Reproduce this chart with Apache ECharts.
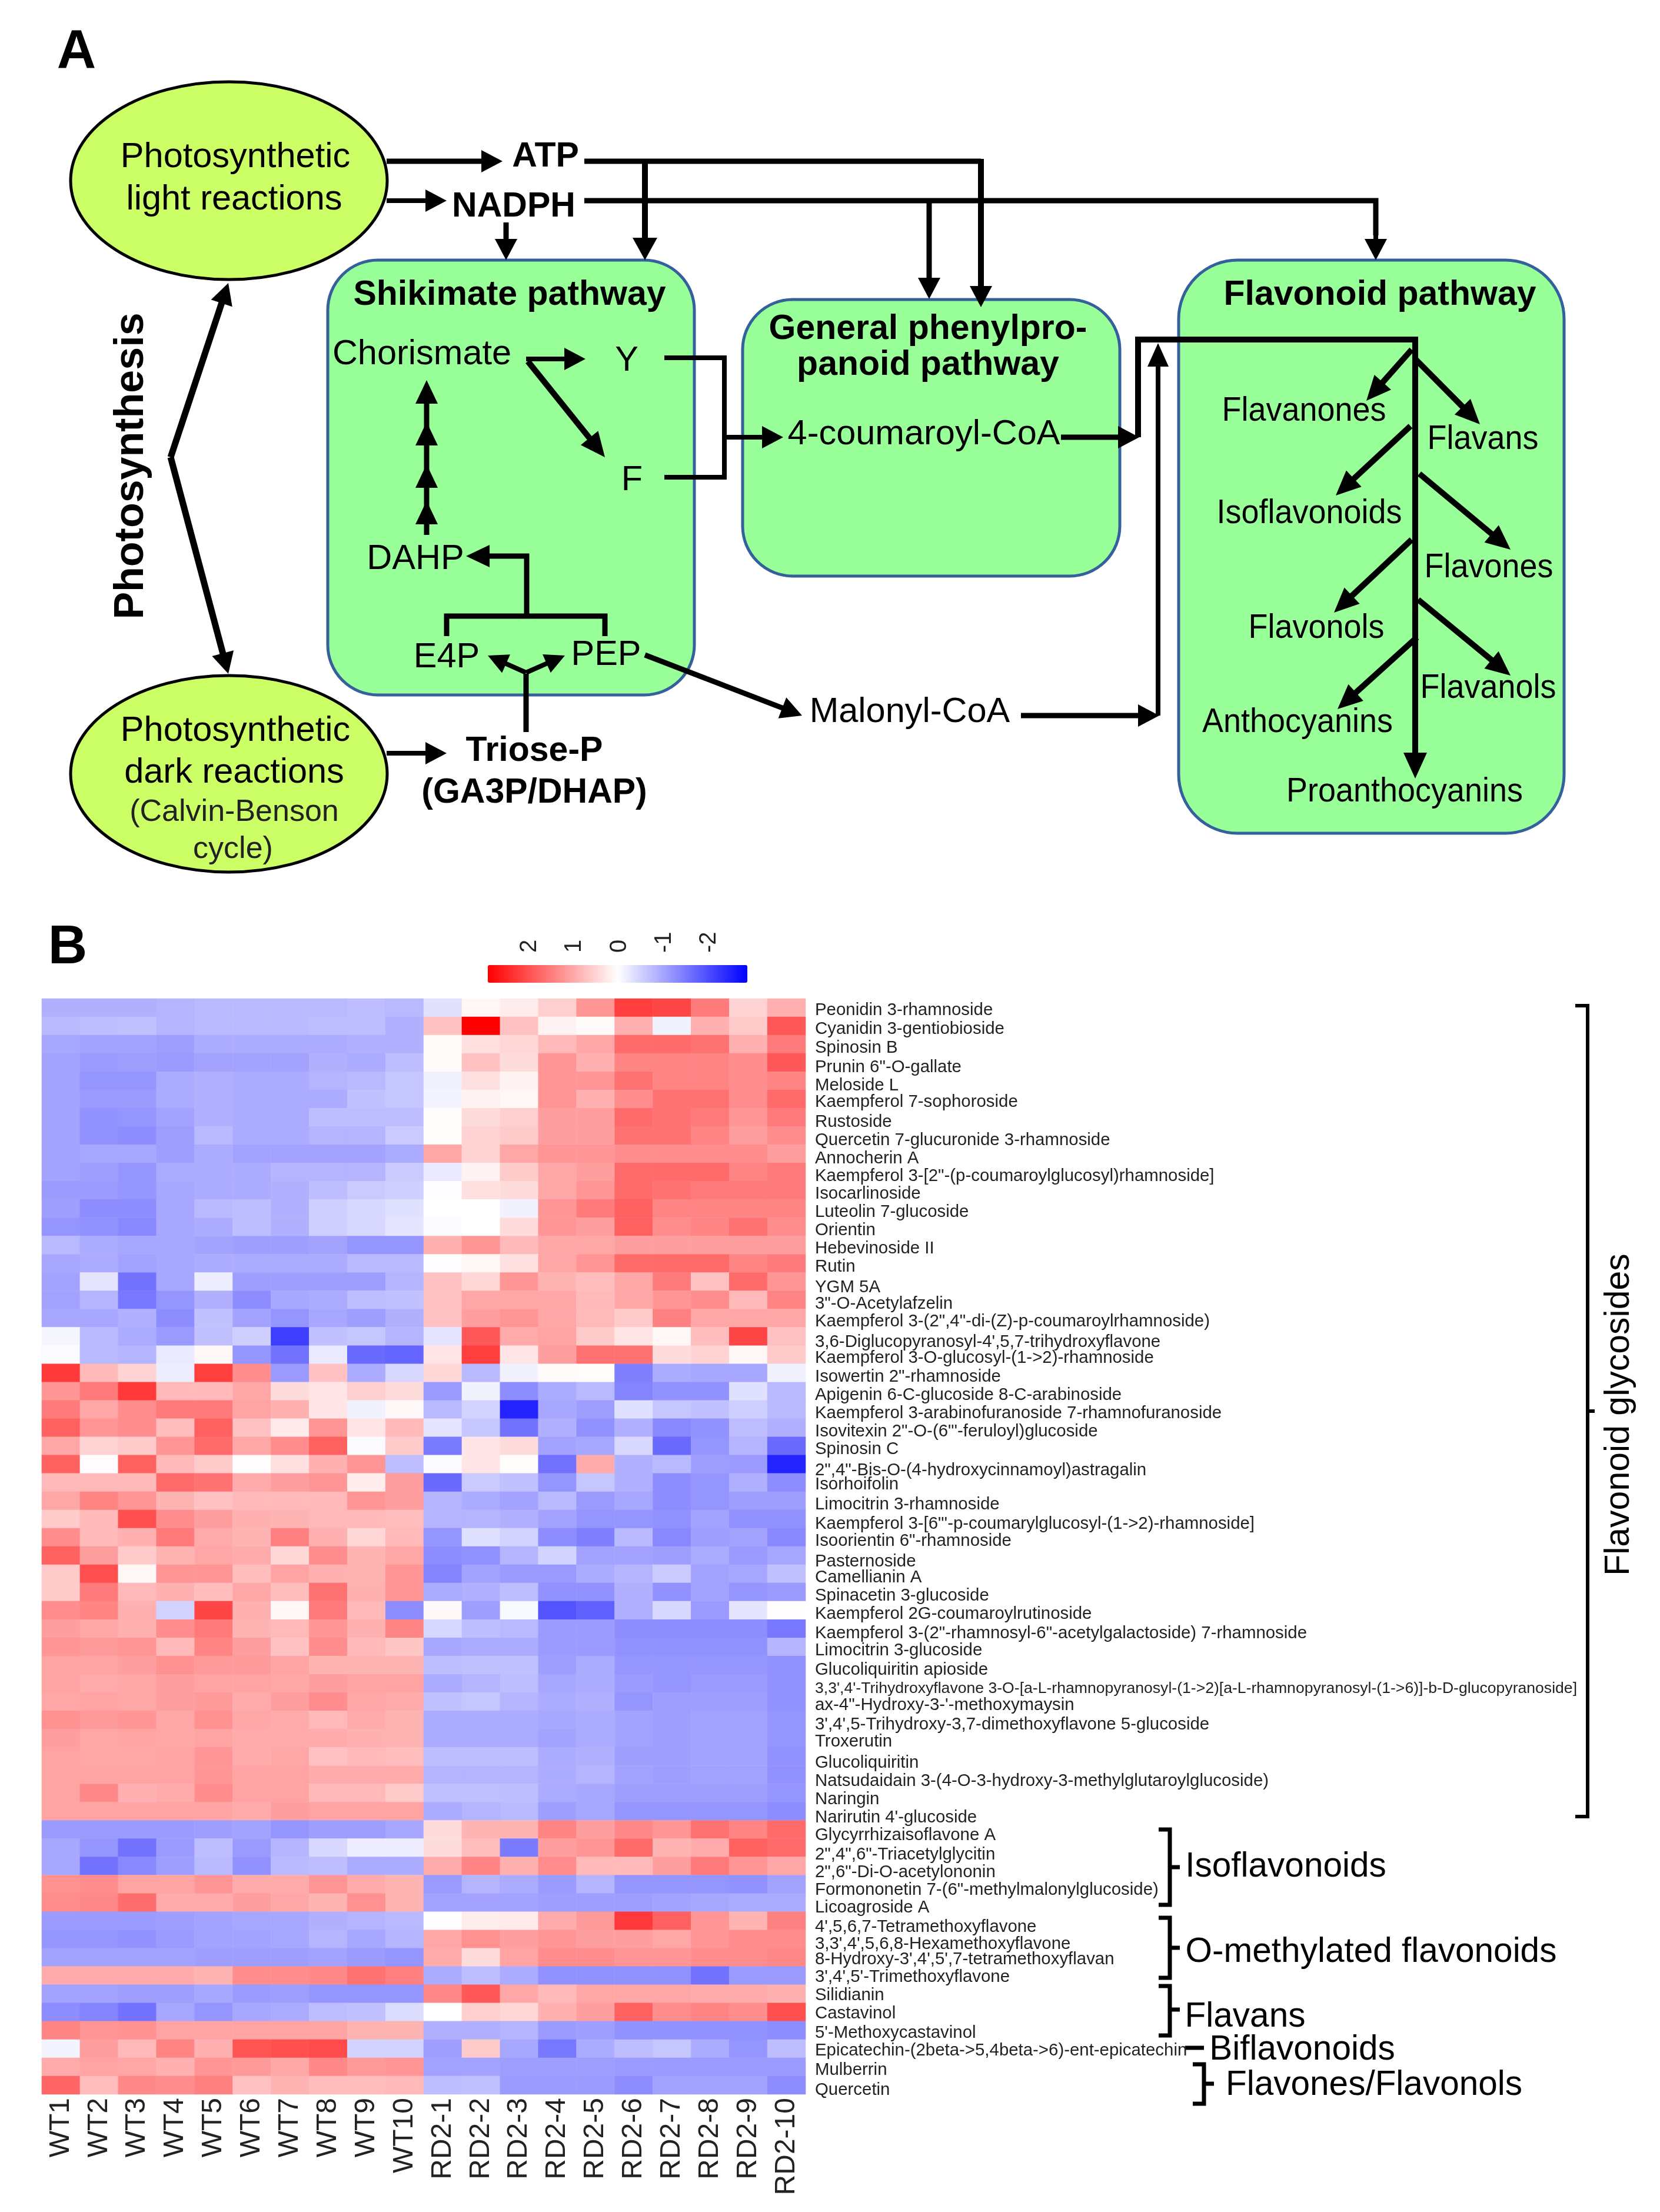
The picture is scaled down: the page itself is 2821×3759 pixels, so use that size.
<!DOCTYPE html>
<html><head><meta charset="utf-8">
<style>html,body{margin:0;padding:0;background:#fff}#c{width:2821px;height:3759px}</style>
<script src="https://cdn.jsdelivr.net/npm/echarts@6/dist/echarts.min.js"></script>
</head><body><div id="c"></div>
<script>
const samples = ['WT1','WT2','WT3','WT4','WT5','WT6','WT7','WT8','WT9','WT10','RD2-1','RD2-2','RD2-3','RD2-4','RD2-5','RD2-6','RD2-7','RD2-8','RD2-9','RD2-10'];
const compounds = ['Peonidin 3-rhamnoside','Cyanidin 3-gentiobioside','Spinosin B','Prunin 6"-O-gallate','Meloside L','Kaempferol 7-sophoroside','Rustoside','Quercetin 7-glucuronide 3-rhamnoside','Annocherin A','Kaempferol 3-[2"-(p-coumaroylglucosyl)rhamnoside]','Isocarlinoside','Luteolin 7-glucoside','Orientin','Hebevinoside II','Rutin','YGM 5A','3"-O-Acetylafzelin','Kaempferol 3-(2",4"-di-(Z)-p-coumaroylrhamnoside)','3,6-Diglucopyranosyl-4\',5,7-trihydroxyflavone','Kaempferol 3-O-glucosyl-(1->2)-rhamnoside','Isowertin 2"-rhamnoside','Apigenin 6-C-glucoside 8-C-arabinoside','Kaempferol 3-arabinofuranoside 7-rhamnofuranoside','Isovitexin 2"-O-(6"\'-feruloyl)glucoside','Spinosin C','2",4"-Bis-O-(4-hydroxycinnamoyl)astragalin','Isorhoifolin','Limocitrin 3-rhamnoside','Kaempferol 3-[6"\'-p-coumarylglucosyl-(1->2)-rhamnoside]','Isoorientin 6"-rhamnoside','Pasternoside','Camellianin A','Spinacetin 3-glucoside','Kaempferol 2G-coumaroylrutinoside','Kaempferol 3-(2"-rhamnosyl-6"-acetylgalactoside) 7-rhamnoside','Limocitrin 3-glucoside','Glucoliquiritin apioside','3,3\',4\'-Trihydroxyflavone 3-O-[a-L-rhamnopyranosyl-(1->2)[a-L-rhamnopyranosyl-(1->6)]-b-D-glucopyranoside]','ax-4"-Hydroxy-3-\'-methoxymaysin','3\',4\',5-Trihydroxy-3,7-dimethoxyflavone 5-glucoside','Troxerutin','Glucoliquiritin','Natsudaidain 3-(4-O-3-hydroxy-3-methylglutaroylglucoside)','Naringin','Narirutin 4\'-glucoside','Glycyrrhizaisoflavone A','2",4",6"-Triacetylglycitin','2",6"-Di-O-acetylononin','Formononetin 7-(6"-methylmalonylglucoside)','Licoagroside A','4\',5,6,7-Tetramethoxyflavone','3,3\',4\',5,6,8-Hexamethoxyflavone','8-Hydroxy-3\',4\',5\',7-tetramethoxyflavan','3\',4\',5\'-Trimethoxyflavone','Silidianin','Castavinol','5\'-Methoxycastavinol','Epicatechin-(2beta->5,4beta->6)-ent-epicatechin','Mulberrin','Quercetin'];
const values = [
[-.9,-.9,-.9,-.85,-.8,-.8,-.8,-.8,-.75,-.8,-.35,.1,.2,.55,1.2,2.2,2.1,1.5,.5,.9],
[-.8,-.75,-.7,-.85,-.8,-.8,-.8,-.75,-.75,-.9,.7,2.9,.7,.15,.05,.9,-.15,.9,.6,1.9],
[-1,-1.05,-1.05,-1.1,-.95,-.95,-.95,-.95,-.9,-.9,.05,.35,.45,.8,1,1.7,1.7,1.6,.9,1.5],
[-1.05,-1.15,-1.1,-1.15,-1.05,-1.05,-1.05,-.9,-.95,-.75,.05,.7,.4,1.2,.9,1.4,1.4,1.4,1.3,1.9],
[-1.05,-1.2,-1.2,-.95,-.9,-.95,-.95,-.85,-.8,-.65,-.15,.35,.15,1.2,1.2,1.6,1.4,1.4,1.3,1.4],
[-1.05,-1.15,-1.15,-.95,-.9,-.95,-.95,-.95,-.7,-.65,-.12,.15,.1,1.2,.9,1.3,1.6,1.6,1.3,1.7],
[-1.05,-1.25,-1.2,-1.05,-.9,-.95,-.95,-.75,-.75,-.75,.03,.4,.55,1.1,1.1,1.7,1.6,1.5,1.2,1.5],
[-1.05,-1.25,-1.3,-1.1,-.8,-.95,-.95,-.85,-.85,-.6,.03,.5,.6,1.1,1.1,1.6,1.6,1.4,1.1,1.3],
[-1.05,-1,-1,-1.1,-.95,-1.05,-1.05,-1.05,-1.05,-.95,1,.5,1,1.2,1.2,1.3,1.3,1.3,1.3,1.1],
[-1.05,-1.1,-1.2,-.95,-.95,-.95,-.85,-.85,-.85,-.6,-.25,.15,.6,1,1.1,1.7,1.7,1.7,1.4,1.5],
[-1.15,-1.15,-1.2,-1,-.95,-.95,-.9,-.75,-.6,-.55,-.02,.35,.4,1,1.2,1.7,1.6,1.5,1.5,1.5],
[-1.1,-1.3,-1.3,-1,-.8,-.75,-.9,-.55,-.45,-.35,0,0,-.15,1.2,1.5,1.8,1.4,1.4,1.4,1.4],
[-1.2,-1.25,-1.35,-1,-.95,-.75,-.9,-.55,-.45,-.3,-.05,0,.4,1.2,1.1,1.8,1.3,1.4,1.6,1.3],
[-.8,-.95,-1,-1,-1.05,-1.1,-1.1,-1.05,-1.2,-1.2,.9,1.2,.8,1,1,1.1,1.1,1.1,1.1,1.1],
[-1,-.95,-1.05,-1,-.95,-.95,-.95,-.95,-.8,-.8,-.02,.1,.35,1,1.2,1.7,1.7,1.7,1.4,1.5],
[-1.05,-.3,-1.6,-1,-.2,-1.1,-1.1,-1.1,-1.1,-.85,.7,.45,1.2,.85,.75,1,1.5,.7,1.7,1.2],
[-1.05,-.85,-1.55,-1.2,-.9,-1.3,-1,-.95,-.75,-.7,.7,1,1,1,.8,1,1.2,1.3,.8,1.4],
[-1,-1,-.9,-1.3,-.7,-1.05,-1.2,-1,-1.1,-.9,.7,1.1,1.2,1,.8,.6,1.45,1,1,1],
[-.1,-.8,-.95,-1.15,-.7,-.55,-2.2,-.7,-.65,-.85,-.3,1.9,.95,1.05,.6,.3,.1,.75,2.1,.7],
[-.05,-.8,-.85,-.25,.1,-1.2,-1.6,-.25,-1.7,-1.75,.3,2.2,.3,1.1,1.6,1.6,.4,.5,.1,.6],
[2.25,.8,.5,-.2,2.2,1.3,-1.15,.7,-.95,-.45,.45,-.8,-.15,.05,.03,-1.45,-.95,-1,-1,-.15],
[1.2,1.5,2.25,.8,.8,1,.4,.3,.55,.4,-1.15,-.15,-1.3,-.95,-.8,-1.4,-1.25,-1.25,-.35,-.8],
[1.5,1,1.3,1.5,1.5,1.05,.9,.3,-.15,.08,-.8,-.5,-2.5,-1,-1.1,-.35,-.65,-.7,-.55,-.8],
[1.8,1.2,1.3,.75,1.8,.7,.25,1.2,.3,.8,-.3,-.65,-1.6,-.9,-1.25,-.9,-1.35,-1.25,-.75,-.9],
[1,.5,.6,1.2,1.7,1,1.3,1.8,-.05,.6,-1.5,.3,.4,-1.05,-1,-.45,-1.7,-1.2,-.85,-1.7],
[1.8,.02,1.8,.8,.6,.02,.35,.9,1.2,-.75,-.03,.3,.03,-1.6,.95,-.9,-.8,-1.1,-1.15,-2.5],
[.8,.8,.8,1.7,1.6,.95,1.1,1.2,.2,1.1,-1.7,-.6,-.7,-1.2,-.65,-.9,-1.3,-1.2,-.9,-1.3],
[1,1.4,1.2,.85,.7,.8,.8,.8,1.2,1.1,-.85,-.95,-1.05,-.8,-1.15,-1,-1.3,-1.2,-1.1,-1.1],
[.6,.8,2,1.3,1.1,.9,.85,.8,.8,.75,-.85,-.85,-.9,-1.05,-1.2,-1.2,-1.25,-1.05,-1.25,-1.25],
[1.3,.8,.9,1.5,.95,.85,1.45,.9,.45,.8,-1.2,-.35,-.5,-1.3,-1.45,-.8,-1.35,-1.1,-1.05,-1.35],
[1.8,1.1,.6,.85,1,.95,.45,1.3,.85,1,-1.3,-1.25,-.85,-.5,-1.05,-1.05,-1.1,-.95,-1.15,-1],
[.6,2,.1,1.2,1.2,.75,1.05,.9,.85,1.2,-1.4,-1.05,-1.15,-1.15,-.95,-.85,-.6,-1.05,-1,-.7],
[.6,1.5,.8,.9,.75,1,.75,1.6,.9,1.2,-.95,-.9,-.75,-1.25,-1.25,-.9,-1.25,-1.05,-1.2,-1.15],
[1.3,1.4,.9,-.5,2.1,.9,.1,1.5,.8,-1.3,.08,-1.1,-.08,-1.95,-1.8,-.9,-.45,-1.15,-.3,.02],
[1.1,1,.9,1.3,1.5,.85,.8,1.2,.9,1.4,-.45,-.75,-.8,-1.15,-1.15,-1.3,-1.3,-1.3,-1.3,-1.55],
[1.2,1.15,1.2,.8,1.4,1.1,.7,1.3,.8,.65,-1,-.95,-.95,-1.15,-1.15,-1.25,-1.25,-1.25,-1.25,-.85],
[1.05,1.05,1.1,1.25,1.15,1.15,1.05,.85,.85,.85,-.75,-.7,-.7,-1.1,-.95,-1.2,-1.2,-1.2,-1.2,-1.25],
[1.05,.95,1,1.1,1.05,1.05,1,1.1,1.05,1.05,-.95,-.85,-.75,-1,-.95,-1.15,-1.2,-1.15,-1.15,-1.25],
[1,1.05,1,1.1,1.15,.95,1.1,1.3,1,.95,-.7,-.65,-.85,-.95,-.9,-1.2,-1.1,-1.1,-1.1,-1.25],
[1.25,1.15,1.2,1,1.25,1,.95,.8,.95,.85,-.95,-.95,-.95,-1,-.95,-1.05,-1.1,-1.05,-1.05,-1.2],
[1.1,1,1.05,1,1.05,.95,.95,.95,.9,.85,-.95,-.95,-.95,-1.05,-.95,-1.05,-1.1,-1.05,-1.05,-1.2],
[1.05,1,1,1.05,1.2,.95,1,.7,.8,.75,-.75,-.75,-.75,-.95,-.9,-1.1,-1.1,-1.05,-1.05,-1.25],
[1.05,1.05,1.05,1.05,1.2,1.05,1.05,.95,.95,.95,-.85,-.85,-.85,-.95,-.85,-1.05,-1.1,-1.05,-1.05,-1.25],
[1.05,1.35,.9,.95,1.3,1.05,1.05,.8,.8,.6,-.7,-.7,-.75,-.95,-1,-1.1,-1.1,-1.1,-1.1,-1.2],
[1.05,1.05,1.05,1.05,1.05,.95,1.1,1.05,1.05,1.05,-.95,-.85,-.8,-1.1,-1,-1.2,-1.2,-1.2,-1.2,-1.3],
[-1.15,-1.15,-1.15,-1.15,-1.1,-1.05,-1.2,-1.1,-1.1,-1,.4,.85,.85,1.4,1.1,1.35,1.2,1.6,1.4,1.7],
[-1,-1.2,-1.6,-1.15,-.75,-1.15,-.85,-.45,-.2,-.2,.4,.75,-1.5,1.1,1.2,1.7,.85,.95,1.8,1.7],
[-1,-1.6,-1.35,-1.1,-.8,-1.25,-.8,-.75,-.95,-.95,.95,1.4,.9,1.3,.8,.8,1.1,1.5,1.2,1],
[1.25,1.3,1.05,1.05,1.2,.95,.95,1.2,.95,.85,-1.15,-.85,-.95,-1.15,-.85,-1.2,-1.2,-1.2,-1.25,-1.05],
[1.3,1.35,1.65,.95,.95,1.1,1,.85,1.25,.85,-1.05,-1.05,-1.05,-1.1,-1.1,-1.1,-1.05,-1,-.95,-.95],
[-1.15,-1.15,-1.15,-1.1,-1.05,-1,-1,-.9,-.85,-.8,.02,.2,.25,.95,1.15,2.25,1.8,1.2,.85,1.45],
[-1.2,-1.2,-1.25,-1.15,-1.05,-1.05,-1,-.85,-1,-.85,1,1.25,1.1,1.2,1.1,1.1,1,1.2,1.3,1.3],
[-1.05,-1.05,-1.05,-1.05,-1.1,-1.1,-1.1,-1.05,-1.15,-1.2,.95,.4,1.05,1.3,1.3,1.2,1.2,1.3,1.3,1.35],
[.95,.95,.95,.95,.85,1.3,1.3,1.35,1.6,1.45,-.95,-.75,-.95,-1.25,-1.25,-1.25,-1.25,-1.6,-1.15,-1.15],
[-1.05,-1.05,-1.1,-1.1,-1,-1.15,-1.1,-1.2,-1.2,-1.2,1.35,1.9,1,.8,1,1,1,.95,.95,.9],
[-1.3,-1.4,-1.6,-1,-1.2,-1,-.95,-.75,-.7,-.4,0,.55,.45,.9,1.1,1.8,1.3,1.4,1.3,2],
[1.4,1.2,1.25,1.05,1.05,1.05,1.05,1.05,.85,.85,-.9,-.9,-.85,-1.15,-1.1,-1.25,-1.25,-1.25,-1.25,-1.3],
[-.12,1.1,.8,1.4,.9,1.95,2,2.05,-.5,-.5,-1.1,.6,-1,-1.55,-.95,-.75,-.65,-.95,-1.2,-.75],
[.95,1.05,1,.9,1.2,1.15,1,1.35,1.15,1.2,-1.05,-1.05,-1.1,-1.1,-1.1,-1.15,-1.15,-1.15,-1.15,-1.15],
[1.75,.75,1.35,1.3,1.45,.7,.85,.75,.75,.8,-.75,-.7,-1.15,-1.15,-1.15,-1.3,-1.05,-1.05,-1.05,-1.3]
];
const scaleTicks = [2,1,0,-1,-2];
const cellData = [];
values.forEach((row,r)=>row.forEach((v,c)=>cellData.push([c,r,v])));

// Hand-placed vertical drift of each row label in the reference (styling, not data)
const labelDrift = [2.6,3.5,5,7,6.7,3.7,6.5,6.8,6.3,5.3,4.9,5,4.7,4.9,4.5,8.6,5,4.6,8.7,4.5,4.8,5,5.3,5,4.5,9.3,2.5,4.7,6.9,4.6,9,4.6,5,4.6,6.8,5,6.7,7.6,5,6.8,5,10,9.5,9.8,9.5,8,10,9.6,8,7.5,9,7.3,2,1.4,1,1,2.7,1.7,4.4,6.6];
const LONG_ROW = 37;

const FF = '"Liberation Sans",Arial,sans-serif';
const rowRich = {};
labelDrift.forEach((d,i)=>{rowRich['r'+i]={fontSize:i===LONG_ROW?26.6:29.4,fontFamily:FF,color:'#222',padding:[Math.max(0,2*(d+1.5)),0,0,0]};});

const g = [];
function box(x,y,w,h,r){g.push({type:'rect',shape:{x,y,width:w,height:h,r},style:{fill:'#99ff99',stroke:'#34609c',lineWidth:5}});}
function oval(cx,cy,rx,ry){g.push({type:'ellipse',shape:{cx,cy,rx,ry},style:{fill:'#ccff66',stroke:'#000',lineWidth:5}});}
function line(pts,w){g.push({type:'polyline',shape:{points:pts},style:{stroke:'#000',lineWidth:w||9,fill:null,lineJoin:'miter'}});}
function head(tip,from,len,wid){
  const dx=tip[0]-from[0],dy=tip[1]-from[1],d=Math.hypot(dx,dy),ux=dx/d,uy=dy/d;
  const bx=tip[0]-ux*len,by=tip[1]-uy*len;
  g.push({type:'polygon',shape:{points:[tip,[bx-uy*wid/2,by+ux*wid/2],[bx+uy*wid/2,by-ux*wid/2]]},style:{fill:'#000'}});
}
function arrow(pts,w,len,wid){
  const n=pts.length,tip=pts[n-1],prev=pts[n-2];
  const dx=tip[0]-prev[0],dy=tip[1]-prev[1],d=Math.hypot(dx,dy),L=len||36;
  const body=pts.slice(0,n-1).concat([[tip[0]-dx/d*L*.8,tip[1]-dy/d*L*.8]]);
  line(body,w);head(tip,prev,L,wid||38);
}
function txt(s,x,y,size,bold,rot,color,sx){
  g.push({type:'text',x,y,rotation:rot||0,scaleX:sx||1,style:{text:s,x:0,y:0,fill:color||'#000',textAlign:'center',textVerticalAlign:'middle',font:(bold?'bold ':'')+size+'px '+FF}});
}
// Panel A nodes
box(557,442,623,739,85); box(1262,509,641,470,85); box(2003,442,655,974,100);
oval(389,307,269,168); oval(389,1315,269,167);
arrow([[657,274],[854,274]],9); arrow([[657,341],[759,341]],8);
line([[993,274],[1667,274]],9); arrow([[1667,270],[1667,522]],10);
arrow([[1096,274],[1096,442]],10,38,42);
line([[993,341],[2338,341],[2338,400]],9); arrow([[2338,341],[2338,442]],8);
arrow([[1579,341],[1579,508]],9); arrow([[860,378],[860,442]],9);
arrow([[657,1280],[759,1280]],8);
arrow([[290,777],[388,481]],11); arrow([[290,777],[388,1145]],11);
// Shikimate internals
line([[725,909],[725,680]],9);
[646,717,789,851].forEach(t=>head([725,t],[725,t+30],40,38));
arrow([[895,1047],[895,945],[792,945]],9,40,38);
line([[759,1081],[759,1047],[1028,1047],[1028,1081]],9);
line([[894,1244],[894,1145]],9);
arrow([[894,1143],[829,1114]],8,34,34); arrow([[894,1143],[960,1114]],8,34,34);
arrow([[894,610],[995,610]],8); arrow([[897,614],[1028,777]],10,42,38);
line([[1129,608],[1231,608],[1231,811],[1129,811]],8);
arrow([[1231,743],[1331,743]],8);
arrow([[1803,743],[1936,743]],9);
line([[1934,743],[1934,577],[2405,577],[2405,1290]],10); head([2405,1323],[2405,1290],44,40);
arrow([[1096,1113],[1363,1216]],9);
arrow([[1735,1216],[1970,1216]],9); arrow([[1968,1216],[1968,583]],8,40,36);
[[[2399,594],[2322,681]],[[2405,610],[2515,721]],[[2397,724],[2270,842]],[[2412,805],[2567,934]],[[2399,917],[2267,1041]],[[2410,1019],[2567,1148]],[[2408,1083],[2273,1205]]].forEach(a=>arrow(a,10,42,38));
// Panel A text
const regularNodes = [['Photosynthetic',400,268],['light reactions',398,340],['Photosynthetic',400,1243],['dark reactions',398,1314],['Chorismate',717,603],['Y',1065,614],['F',1074,817],['DAHP',706,951],['E4P',759,1118],['PEP',1030,1114],['4-coumaroyl-CoA',1570,739],['Malonyl-CoA',1546,1211]];
const flavonoidNodes = [['Flavanones',2216,699],['Flavans',2520,747],['Isoflavonoids',2225,873],['Flavones',2530,965],['Flavonols',2237,1068],['Flavanols',2529,1170],['Anthocyanins',2205,1228],['Proanthocyanins',2387,1346]];
const boldNodes = [['ATP',927,267],['NADPH',873,352],['Shikimate pathway',866,502],['General phenylpro-',1577,560],['panoid pathway',1577,621],['Flavonoid pathway',2345,502],['Triose-P',908,1277],['(GA3P/DHAP)',908,1348]];
regularNodes.forEach(n=>txt(n[0],n[1],n[2],59.5));
flavonoidNodes.forEach(n=>txt(n[0],n[1],n[2],58,false,0,'#000',.93));
boldNodes.forEach(n=>txt(n[0],n[1],n[2],59,true));
txt('(Calvin-Benson',398,1381,52,false,0,'#222'); txt('cycle)',396,1444,52,false,0,'#222');
txt('Photosynthesis',224,792,70,true,Math.PI/2);
txt('A',130,90,92,true); txt('B',115,1612,92,true);
// Panel B brackets
function bracket(x,y0,y1,ym,tip,nub,w){line([[tip,y0],[x,y0],[x,y1],[tip,y1]],w||7);line([[x,ym],[nub,ym]],w||7);}
bracket(2698,1709,3087,2398,2677,2710,6);
bracket(1988,3109,3237,3173,1969,2005);
bracket(1988,3259,3361,3310,1969,2005);
bracket(1988,3375,3459,3415,1969,2005);
bracket(2046,3508,3575,3541,2027,2063);
line([[2014,3480],[2046,3480]],7);
const groupLabels = [['Isoflavonoids',2185,3173],['O-methylated flavonoids',2330,3318],['Flavans',2116,3428],['Biflavonoids',2213,3484],['Flavones/Flavonols',2335,3544]];
groupLabels.forEach(n=>txt(n[0],n[1],n[2],58.5));
txt('Flavonoid glycosides',2752,2404,59,false,Math.PI/2);

const option = {
  animation:false, backgroundColor:'#fff',
  grid:[{left:71,top:1697,width:1298,height:1862},{left:832,top:1619,width:441,height:10}],
  xAxis:[
    {type:'category',gridIndex:0,data:samples,position:'bottom',axisLine:{show:false},axisTick:{show:false},splitLine:{show:false},
     axisLabel:{interval:0,rotate:90,margin:6,fontSize:48,fontFamily:FF,color:'#222',padding:[8,0,0,0]}},
    {type:'value',gridIndex:1,min:-2.9,max:2.9,inverse:true,position:'top',axisLine:{show:false},axisTick:{show:false},splitLine:{show:false},
     axisLabel:{customValues:scaleTicks,rotate:90,margin:0,fontSize:40,fontFamily:FF,color:'#222'}}
  ],
  yAxis:[
    {type:'category',gridIndex:0,data:compounds,inverse:true,position:'right',axisLine:{show:false},axisTick:{show:false},splitLine:{show:false},
     axisLabel:{interval:0,margin:16,fontFamily:FF,color:'#222',rich:rowRich,formatter:(v,i)=>'{r'+i+'|'+v+'}'}},
    {type:'value',gridIndex:1,show:false}
  ],
  visualMap:{type:'continuous',min:-2.9,max:2.9,seriesIndex:0,orient:'horizontal',inverse:true,left:829,top:1640,itemWidth:30,itemHeight:441,padding:0,calculable:false,hoverLink:false,text:null,showLabel:false,
    inRange:{color:['#0000ff','#ffffff','#ff0000']}},
  series:[{type:'heatmap',xAxisIndex:0,yAxisIndex:0,data:cellData,progressive:0,itemStyle:{borderWidth:0}}],
  graphic:{elements:g}
};
echarts.init(document.getElementById('c'),null,{renderer:'canvas'}).setOption(option);
</script></body></html>
